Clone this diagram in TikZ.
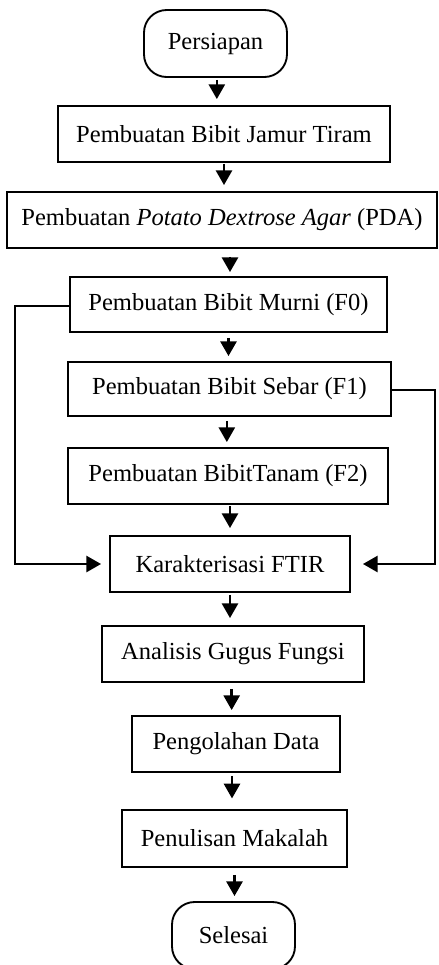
\documentclass[tikz,border=0pt]{standalone}
\usepackage{fontspec}
\setmainfont{Liberation Serif}
\usetikzlibrary{arrows.meta}
\begin{document}
\begin{tikzpicture}[x=0.75pt,y=-0.75pt,
  every node/.style={font=\fontsize{18.4}{22}\selectfont},
  sz/.style 2 args={minimum width=#1*0.75pt, minimum height=#2*0.75pt},
  box/.style={draw, line width=1.4pt, inner sep=2pt, rectangle},
  term/.style={draw, line width=1.4pt, inner sep=2pt, rounded corners=17pt},
  arr/.style={line width=1.9pt, -{Triangle[length=11pt,width=12pt]}},
  link/.style={line width=1.9pt}]
\useasboundingbox (0,0) rectangle (439,965);
\node[term, sz={143}{67}] (start) at (215.5,43.5) {Persiapan};
\node[box, sz={332}{56}] (b1) at (224,134) {Pembuatan Bibit Jamur Tiram};
\node[box, sz={430}{56}] (b2) at (222,220) {Pembuatan \textit{Potato Dextrose Agar} (PDA)};
\node[box, sz={317}{55}] (b3) at (228.5,304.5) {Pembuatan Bibit Murni (F0)};
\node[box, sz={323}{54}] (b4) at (229.5,389) {Pembuatan Bibit Sebar (F1)};
\node[box, sz={320}{56}] (b5) at (228,476) {Pembuatan BibitTanam (F2)};
\node[box, sz={240}{56}] (b6) at (230,564) {Karakterisasi FTIR};
\node[box, sz={262}{56}] (b7) at (233,654) {Analisis Gugus Fungsi};
\node[box, sz={208}{56}] (b8) at (236,744) {Pengolahan Data};
\node[box, sz={225}{57}] (b9) at (234.5,838.5) {Penulisan Makalah};
\node[term, sz={123}{67}] (end) at (233.5,935.5) {Selesai};
\coordinate (L) at (15,0);
\coordinate (R) at (435,0);
\draw[arr, shorten <=1.5pt, shorten >=4.5pt] ([xshift=1pt]start.south) -- ([xshift=1pt]start.south |- b1.north);
\draw[arr, shorten <=0.75pt, shorten >=4.5pt] (b1.south) -- (b1.south |- b2.north);
\draw[arr, shorten <=6pt, shorten >=3pt] ([xshift=6pt]b2.south) -- ([xshift=6pt]b2.south |- b3.north);
\draw[arr, shorten <=3.75pt, shorten >=3.75pt] (b3.south) -- (b3.south |- b4.north);
\draw[arr, shorten <=3pt, shorten >=3.75pt] ([xshift=-2pt]b4.south) -- ([xshift=-2pt]b4.south |- b5.north);
\draw[arr, shorten <=0.75pt, shorten >=5.25pt] ([xshift=1.5pt]b5.south) -- ([xshift=1.5pt]b5.south |- b6.north);
\draw[arr, shorten <=1.5pt, shorten >=5.25pt] (b6.south) -- (b6.south |- b7.north);
\draw[arr, shorten <=4.5pt, shorten >=3.75pt] ([xshift=-1pt]b7.south) -- ([xshift=-1pt]b7.south |- b8.north);
\draw[arr, shorten <=2.25pt, shorten >=8pt] ([xshift=-3pt]b8.south) -- ([xshift=-3pt]b8.south |- b9.north);
\draw[arr, shorten <=5.25pt, shorten >=3.75pt] (b9.south) -- (b9.south |- end.north);
\draw[arr, shorten >=6pt] ([yshift=-1pt]b3.west) -- ([yshift=-1pt]b3.west -| L) -- (L |- b6.west) -- (b6.west);
\draw[arr, shorten >=9pt] ([yshift=-0.75pt]b4.east) -- ([yshift=-0.75pt]b4.east -| R) -- (R |- b6.east) -- (b6.east);
\end{tikzpicture}
\end{document}
